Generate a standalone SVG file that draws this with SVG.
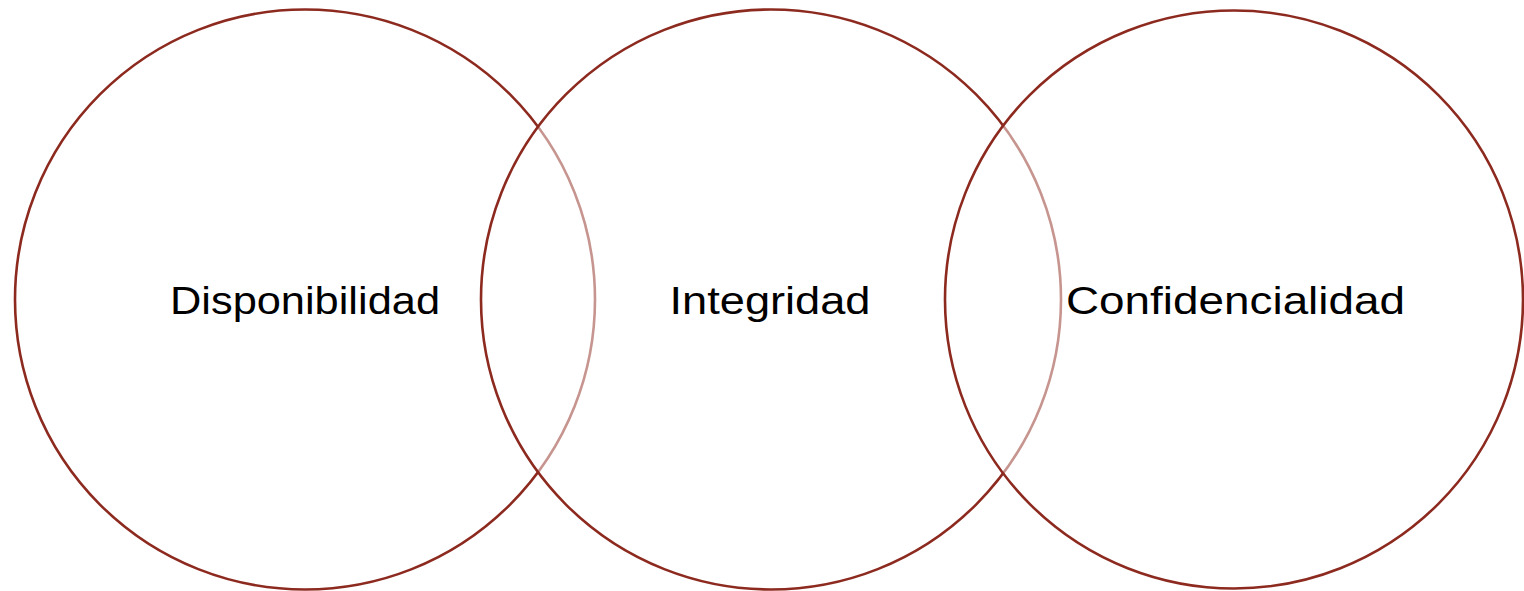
<svg xmlns="http://www.w3.org/2000/svg" width="1524" height="591" viewBox="0 0 1524 591">
<style>
.c{fill:#ffffff;fill-opacity:0.5;stroke:#8d2a1f;stroke-width:2.6}
.t{font-family:"Liberation Sans",Arial,sans-serif;font-size:38px;fill:#000;text-anchor:middle}
</style>
<rect width="1524" height="591" fill="#ffffff"/>
<g id="disponibilidad">
<circle class="c" cx="305" cy="299.5" r="290"/>
<text class="t" x="305" y="314" textLength="270" lengthAdjust="spacingAndGlyphs">Disponibilidad</text>
</g>
<g id="integridad">
<circle class="c" cx="771" cy="299.5" r="290"/>
<text class="t" x="770" y="314" textLength="201" lengthAdjust="spacingAndGlyphs">Integridad</text>
</g>
<g id="confidencialidad">
<circle class="c" cx="1234" cy="299.5" r="289"/>
<text class="t" x="1235.5" y="314" textLength="339" lengthAdjust="spacingAndGlyphs">Confidencialidad</text>
</g>
</svg>
